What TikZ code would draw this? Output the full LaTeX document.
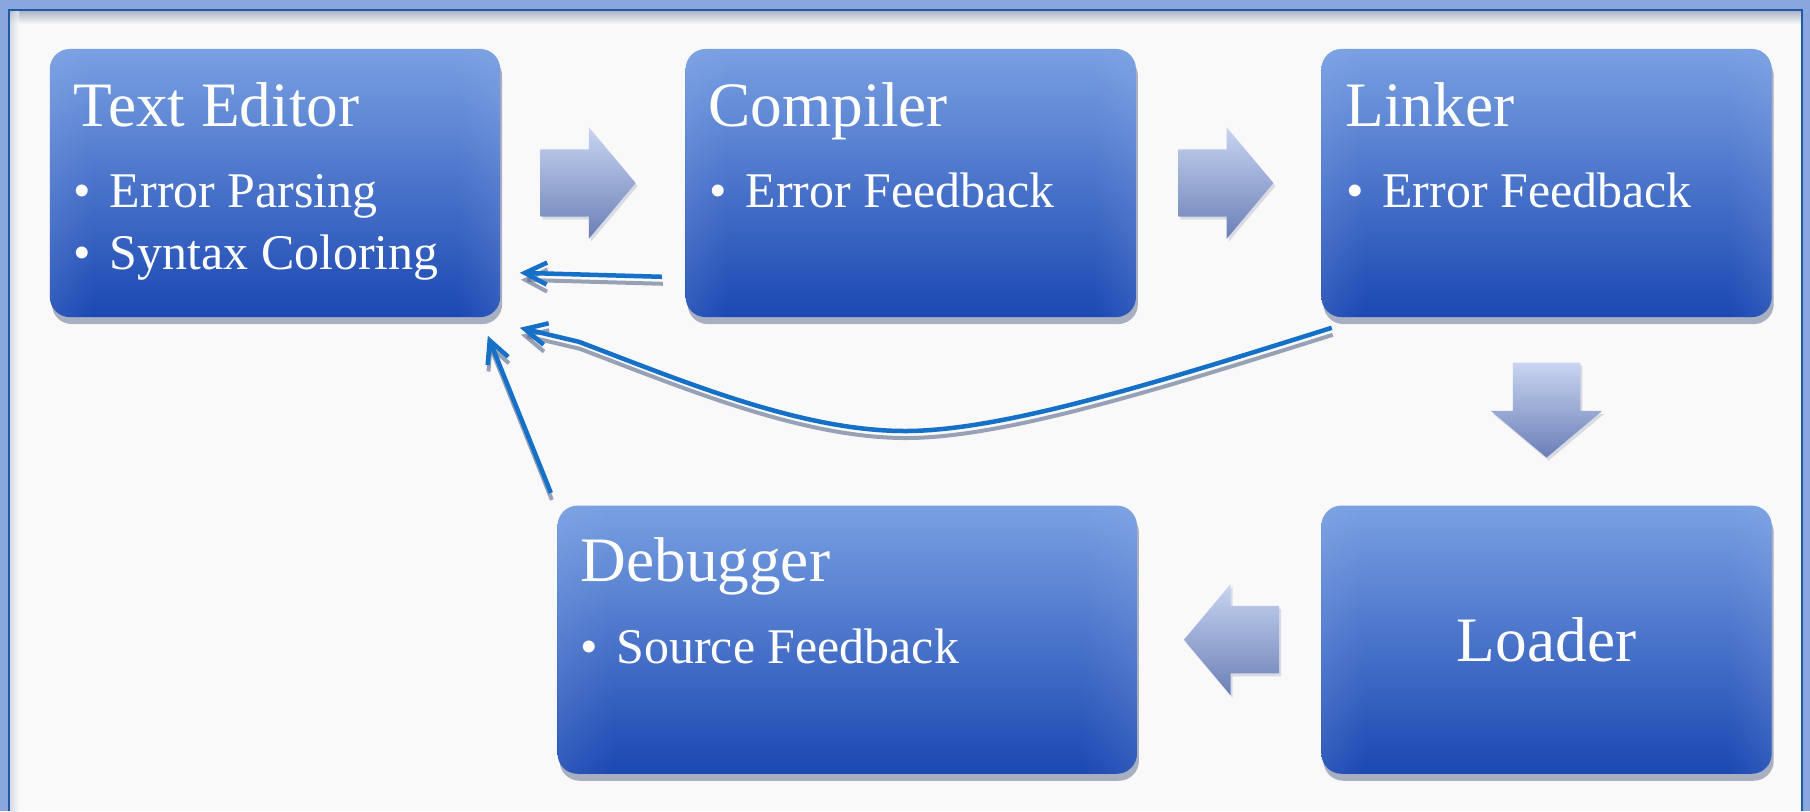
\documentclass[tikz,border=0pt]{standalone}
\usepackage{fontspec}
\setmainfont{Liberation Serif}
\usetikzlibrary{positioning,calc,shapes.arrows,shadows,fadings,arrows.meta}

\definecolor{boxtop}{HTML}{79A0E2}
\definecolor{boxbot}{HTML}{1B48B2}
\definecolor{boxside}{HTML}{A4BCEE}
\definecolor{arrtop}{HTML}{C8D4F0}
\definecolor{arrbot}{HTML}{6A7FB7}
\definecolor{fbblue}{HTML}{1570C8}
\definecolor{shadowc}{HTML}{56678A}
\definecolor{framelight}{HTML}{8AA6DF}
\definecolor{framedark}{HTML}{1F5BA5}
\definecolor{page}{HTML}{F9F9FA}

% lighter left and right edges of the boxes
\pgfdeclarehorizontalshading{sidemask}{100bp}{color(0bp)=(white); color(9bp)=(gray!70); color(30bp)=(black); color(70bp)=(black); color(91bp)=(gray!70); color(100bp)=(white)}
\pgfdeclarefading{sidefade}{\pgfuseshading{sidemask}}

\newcommand{\ttlfont}{\fontsize{18}{22}\selectfont}
\newcommand{\itmfont}{\fontsize{14.2}{17}\selectfont}
\newcommand{\itm}[1]{\makebox[0.36cm][l]{\textbullet}#1}

\tikzset{
  box/.style={rounded corners=0.2cm, minimum width=4.5cm, minimum height=2.68cm,
    inner sep=0pt, text=white, font=\ttlfont,
    top color=boxtop, bottom color=boxbot,
    drop shadow={shadow xshift=0.02cm, shadow yshift=-0.07cm, opacity=0.5, fill=shadowc},
    path picture={\fill[boxside, path fading=sidefade]
      (path picture bounding box.south west) rectangle (path picture bounding box.north east);}},
  ttl/.style={anchor=base west, inner sep=0pt, text=white, font=\ttlfont},
  itm/.style={anchor=base west, inner sep=0pt, text=white, font=\itmfont},
  blk/.style={single arrow, single arrow head extend=0.22cm, single arrow tip angle=100,
    minimum width=1.1cm, minimum height=0.95cm, inner xsep=0pt, inner ysep=0.33cm,
    anchor=tail, top color=arrtop, bottom color=arrbot,
    drop shadow={shadow xshift=0.02cm, shadow yshift=-0.03cm, opacity=0.2, fill=shadowc}},
  blkdown/.style={blk, shape border rotate=270, inner xsep=0.33cm, inner ysep=0pt},
  fb/.style={draw=fbblue, line width=0.045cm, -{Straight Barb[length=0.22cm, width=0.22cm]},
    preaction={draw=shadowc, opacity=0.6, line width=0.04cm,
      -{Straight Barb[length=0.22cm, width=0.22cm]},
      transform canvas={xshift=0.01cm, yshift=-0.07cm}}}
}

\begin{document}
\begin{tikzpicture}[x=0.01cm, y=-0.01cm, node distance=1.84cm]
\useasboundingbox (0,0) rectangle (1810,811);

% frame
\fill[framelight] (0,0) rectangle (1810,811);
\fill[page] (9,10) rectangle (1802,811);
\shade[top color=shadowc!60, bottom color=page, opacity=0.8] (10,11) rectangle (1801,24);
\shade[left color=shadowc!35, right color=page, opacity=0.6] (10,11) rectangle (19,811);
\draw[framedark, line width=0.02cm] (9,811) -- (9,10) -- (1802,10) -- (1802,811);

% boxes
\node[box] (editor) at (275,183) {};
\node[box, right=of editor] (compiler) {};
\node[box, right=of compiler] (linker) {};
\node[box, below=1.87cm of linker] (loader) {Loader};
\node[box, minimum width=5.79cm, left=1.83cm of loader] (debugger) {};

% texts
\node[ttl] (editor-t) at ([shift={(24,78)}]editor.north west) {Text Editor};
\node[itm] (editor-a) at ([shift={(24,159)}]editor.north west) {\itm{Error Parsing}};
\node[itm] (editor-b) at ([shift={(0,62)}]editor-a.base west) {\itm{Syntax Coloring}};
\node[ttl] (compiler-t) at ([shift={(23,78)}]compiler.north west) {Compiler};
\node[itm] (compiler-a) at ([shift={(24,159)}]compiler.north west) {\itm{Error Feedback}};
\node[ttl] (linker-t) at ([shift={(24,78)}]linker.north west) {Linker};
\node[itm] (linker-a) at ([shift={(25,159)}]linker.north west) {\itm{Error Feedback}};
\node[ttl] (debugger-t) at ([shift={(23,77)}]debugger.north west) {Debugger};
\node[itm] (debugger-a) at ([shift={(23,159)}]debugger.north west) {\itm{Source Feedback}};

% block arrows
\node[blk] (e2c) at ([xshift=0.39cm]editor.east) {};
\node[blk] (c2l) at ([xshift=0.41cm]compiler.east) {};
\node[blkdown] (l2o) at ([yshift=-0.44cm]linker.south) {};
\node[blk, shape border rotate=180] (o2d) at ([xshift=-0.41cm]loader.west) {};

% feedback
\draw[fb] ([shift={(-23,-41)}]compiler.south west) -- ([shift={(19,-45)}]editor.south east);
\draw[fb] ([shift={(11,10)}]linker.south west) .. controls (1150,385) and (1000,431) .. (905,431)
  .. controls (800,431) and (680,380) .. ([shift={(78,24)}]editor.south east)
  -- ([shift={(19,10)}]editor.south east);
\draw[fb] ([shift={(-6,-12)}]debugger.north west) -- ([shift={(-13,18)}]editor.south east);

\end{tikzpicture}
\end{document}
